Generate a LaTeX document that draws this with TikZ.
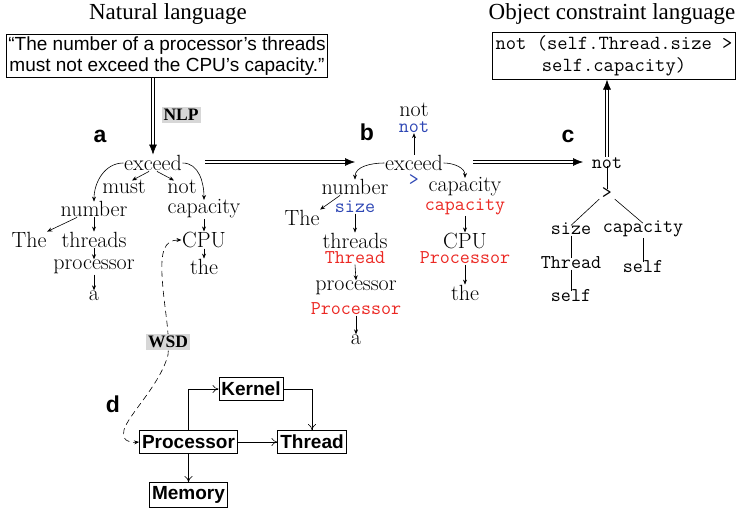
\documentclass[tikz,border=0pt]{standalone}
\usepackage{fontspec}
\newfontfamily\sansf{Liberation Sans}
\newfontfamily\seriff{Liberation Serif}
\usetikzlibrary{arrows.meta,calc}
\definecolor{oblue}{RGB}{45,70,180}
\definecolor{ored}{RGB}{235,40,35}
\definecolor{lblgray}{RGB}{215,215,215}
\begin{document}
\begin{tikzpicture}[x=1pt,y=-1pt,
  tw/.style={font=\fontsize{22}{24}\selectfont, inner sep=0.5pt},
  tm/.style={font=\fontsize{19.5}{21}\selectfont\ttfamily, inner sep=0.5pt},
  blu/.style={tm, text=oblue},
  rd/.style={tm, text=ored},
  ta/.style={line width=0.6pt, -{Stealth[length=5pt,width=4pt]}},
  tl/.style={line width=0.6pt},
  dline/.style={line width=0.9pt, double distance=1.4pt, shorten >=8pt},
  dtip/.style={line width=0.6pt, -{Latex[length=10pt,width=8pt]}},
  ttl/.style={font=\seriff\fontsize{23}{26}\selectfont},
  lab/.style={font=\sansf\bfseries\fontsize{23}{25}\selectfont},
  tag/.style={font=\seriff\bfseries\fontsize{17.5}{19}\selectfont, fill=lblgray, inner sep=2pt},
  dbox/.style={draw, line width=0.8pt, font=\sansf\bfseries\fontsize{19}{21}\selectfont, inner xsep=2.5pt, minimum height=23pt},
  darr/.style={line width=0.6pt, -{To[length=6pt,width=8pt]}},
  wsd/.style={line width=0.6pt, dash pattern=on 6pt off 4pt, {Stealth[length=5pt,width=4pt]}-{Stealth[length=5pt,width=4pt]}}
]
\useasboundingbox (0,0) rectangle (739,511);

% titles and boxes
\node[ttl] (t1) at (168,14) {Natural language};
\node[ttl] (t2) at (612,14) {Object constraint language};
\node[draw, line width=0.8pt, align=center, font=\sansf\fontsize{19}{21}\selectfont, inner sep=2pt] (nl) at (167,56)
  {“The number of a processor’s threads\\must not exceed the CPU’s capacity.”};
\node[draw, line width=0.8pt, align=center, font=\fontsize{20}{22}\selectfont\ttfamily, inner sep=3pt] (ocl) at (614,56)
  {not (self.Thread.size >\\self.capacity)};

% labels
\node[lab] (la) at (100,136) {a};
\node[lab] (lb) at (367,132) {b};
\node[lab] (lc) at (568,136) {c};
\node[lab] (ld) at (113,404) {d};
\node[tag] (nlp) at (181,115) {NLP};

% tree a
\node[tw] (ea) at (153,163) {exceed};
\node[tw] (mu) at (124,187) {must};
\node[tw] (no) at (182,187) {not};
\node[tw] (nu) at (94,209) {number};
\node[tw] (ca) at (204,209) {capacity};
\node[tw] (th1) at (29,240) {The};
\node[tw] (tr) at (94,240) {threads};
\node[tw] (cp) at (204,240) {CPU};
\node[tw] (pc) at (94,267) {processor};
\node[tw] (the) at (204,267) {the};
\node[tw] (aa) at (94,296) {a};

\draw[ta] (ea.west) to[out=180,in=90] ([yshift=-1pt]nu.north);
\draw[ta] (ea.east) to[out=0,in=90] ([yshift=-1pt]ca.north);
\draw[ta] ([xshift=-4pt]ea.south) -- ([xshift=8pt,yshift=-1pt]mu.north);
\draw[ta] ([xshift=4pt]ea.south) -- ([xshift=-8pt,yshift=-1pt]no.north);
\draw[ta] ([xshift=-17pt]nu.south) -- (th1.north east);
\draw[ta] (nu.south) -- (tr.north);
\draw[ta] (tr.south) -- (pc.north);
\draw[ta] (pc.south) -- (aa.north);
\draw[ta] (ca.south) -- (cp.north);
\draw[ta] (cp.south) -- (the.north);

% tree b
\node[tw] (bn1) at (414,110) {not};
\node[blu] (bn2) at (414,127) {not};
\node[tw] (eb) at (414,163) {exceed};
\node[blu] (gt) at (414,180) {>};
\node[tw] (nb) at (355,187) {number};
\node[blu] (sz) at (355,207) {size};
\node[tw] (tb) at (302,218) {The};
\node[tw] (trb) at (355,241) {threads};
\node[rd] (thr) at (355,258) {Thread};
\node[tw] (pcb) at (356,288) {processor};
\node[rd] (pcr) at (356,309) {Processor};
\node[tw] (ab) at (356,340) {a};
\node[tw] (cb) at (465,187) {capacity};
\node[rd] (cr) at (465,207) {capacity};
\node[tw] (cpb) at (465,241) {CPU};
\node[rd] (pr2) at (465,258) {Processor};
\node[tw] (theb) at (465,293) {the};

\draw[ta] (eb.north) -- (bn2.south);
\draw[ta] (eb.west) to[out=180,in=90] ([yshift=-1pt]nb.north);
\draw[ta] (eb.east) to[out=0,in=90] ([yshift=-1pt]cb.north);
\draw[ta] ([xshift=-15pt]nb.south) -- (tb.north east);
\draw[ta] (sz.south) -- (trb.north);
\draw[ta] (thr.south) -- (pcb.north);
\draw[ta] (pcr.south) -- (ab.north);
\draw[ta] (cr.south) -- (cpb.north);
\draw[ta] (pr2.south) -- (theb.north);

% tree c
\node[tm] (cn) at (607,163) {not};
\node[tm] (cg) at (607,193) {>};
\node[tm] (cs) at (571,229) {size};
\node[tm] (cc) at (643,229) {capacity};
\node[tm] (cT) at (571,263) {Thread};
\node[tm] (cs1) at (643,267) {self};
\node[tm] (cs2) at (571,296) {self};
\draw[tl] ([yshift=3pt]cn.south) -- ([yshift=-2pt]cg.north);
\draw[tl] ([xshift=-2pt]cg.south west) -- ([yshift=-3pt]cs.north);
\draw[tl] ([xshift=2pt]cg.south east) -- ([yshift=-3pt]cc.north);
\draw[tl] (cs.south) -- ([yshift=-2pt]cT.north);
\draw[tl] (cc.south) -- ([yshift=-2pt]cs1.north);
\draw[tl] (cT.south) -- ([yshift=-2pt]cs2.north);

% double arrows
\coordinate (nl1) at (nl.south -| ea.north);
\coordinate (ab1) at (205,162);
\coordinate (ab2) at (355,162);
\coordinate (bc1) at (473,162);
\coordinate (bc2) at (583,162);
\coordinate (co1) at (cn.north);
\coordinate (co2) at (ocl.south -| cn.north);
\draw[dline] (nl1) -- (ea.north);
\draw[dtip] ($(ea.north)!10pt!(nl1)$) -- (ea.north);
\draw[dline] (ab1) -- (ab2);
\draw[dtip] ($(ab2)!10pt!(ab1)$) -- (ab2);
\draw[dline] (bc1) -- (bc2);
\draw[dtip] ($(bc2)!10pt!(bc1)$) -- (bc2);
\draw[dline] (co1) -- (co2);
\draw[dtip] ($(co2)!10pt!(co1)$) -- (co2);

% d diagram
\node[dbox] (ke) at (251,389) {Kernel};
\node[dbox] (pr) at (188.5,442) {Processor};
\node[dbox] (th) at (312,442) {Thread};
\node[dbox, minimum height=25pt] (me) at (188.5,495) {Memory};
\draw[darr] (pr.north) |- (ke.west);
\draw[darr] (ke.east) -| (th.north);
\draw[darr] (pr.east) -- (th.west);
\draw[darr] (pr.south) -- (me.north);

% WSD link
\draw[wsd] (cp.west) .. controls (164,240) and (161,252) .. (162,275)
  .. controls (164,310) and (170,330) .. (168,355)
  .. controls (160,385) and (128,415) .. (124,430)
  .. controls (122,440) and (128,443) .. (pr.west);
\node[tag] (wsd) at (168,342) {WSD};
\end{tikzpicture}
\end{document}
